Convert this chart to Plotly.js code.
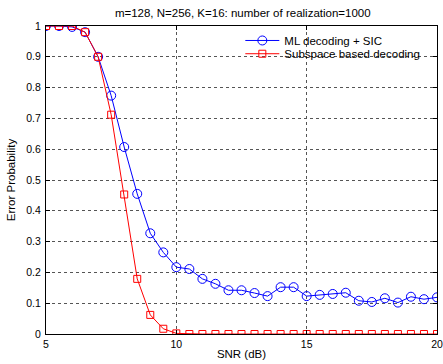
<!DOCTYPE html>
<html>
<head>
<meta charset="utf-8">
<script src="https://cdn.plot.ly/plotly-3.0.1.min.js"></script>
<style>html,body{margin:0;padding:0;background:#fff;}#chart{width:443px;height:364px;}</style>
</head>
<body>
<div id="chart"></div>
<script>
const snr = [5,5.5,6,6.5,7,7.5,8,8.5,9,9.5,10,10.5,11,11.5,12,12.5,13,13.5,14,14.5,15,15.5,16,16.5,17,17.5,18,18.5,19,19.5,20];
const mlSic = [1.0,1.0,0.997,0.98,0.90,0.774,0.607,0.455,0.327,0.265,0.217,0.211,0.179,0.163,0.142,0.142,0.133,0.123,0.152,0.152,0.123,0.127,0.13,0.134,0.108,0.104,0.116,0.102,0.121,0.113,0.119];
const subspace = [1.0,1.0,1.0,0.98,0.90,0.712,0.453,0.179,0.062,0.017,0.002,0,0,0,0,0,0,0,0,0,0,0,0,0,0,0,0,0,0,0,0];
const seriesNames = ["ML decoding + SIC", "Subspace based decoding"];
const titleText = "m=128, N=256, K=16: number of realization=1000";
const xTitle = "SNR (dB)";
const yTitle = "Error Probability";
const xTicks = [5,10,15,20];
const yTicks = [0,0.1,0.2,0.3,0.4,0.5,0.6,0.7,0.8,0.9,1];

const fam = "Liberation Sans, Arial, sans-serif";
const tickFont = {family: fam, size: 10.5, color: "#000"};
const textFont = {family: fam, size: 11.5, color: "#000"};
const traces = [
  {x: snr, y: mlSic, name: seriesNames[0], mode: "lines+markers", type: "scatter", legend: "legend",
   line: {color: "#0000ff", width: 1},
   marker: {symbol: "circle-open", size: 9, color: "#0000ff", line: {width: 1, color: "#0000ff"}}},
  {x: snr, y: subspace, name: seriesNames[1], mode: "lines+markers", type: "scatter", legend: "legend2",
   line: {color: "#ff0000", width: 1},
   marker: {symbol: "square-open", size: 7, color: "#ff0000", line: {width: 1, color: "#ff0000"}}}
];
const axisCommon = {
  showline: true, linecolor: "#000", linewidth: 1, mirror: "allticks",
  ticks: "inside", ticklen: 4, tickcolor: "#000",
  showgrid: true, gridcolor: "#555", griddash: "dot", gridwidth: 1,
  zeroline: false, tickfont: tickFont
};
const legendCommon = {xanchor: "left", yanchor: "middle", bgcolor: "rgba(0,0,0,0)",
  borderwidth: 0, font: textFont, itemwidth: 34};
const layout = {
  width: 443, height: 364,
  margin: {l: 46, r: 6, t: 26, b: 30},
  paper_bgcolor: "#fff", plot_bgcolor: "#fff",
  font: textFont,
  title: {text: titleText, font: textFont, x: 0.548, xanchor: "center", y: 0.963, yanchor: "middle"},
  xaxis: Object.assign({}, axisCommon, {range: [5, 20], tickvals: xTicks, ticktext: xTicks.map(String),
    title: {text: xTitle, font: textFont, standoff: 1}}),
  yaxis: Object.assign({}, axisCommon, {range: [0, 1], tickvals: yTicks, ticktext: yTicks.map(v => String(v)),
    ticklabelstandoff: 2,
    title: {text: yTitle, font: textFont, standoff: 8}}),
  showlegend: true,
  legend: Object.assign({}, legendCommon, {x: 0.497, y: 0.953}),
  legend2: Object.assign({}, legendCommon, {x: 0.497, y: 0.910})
};
Plotly.newPlot("chart", traces, layout, {displayModeBar: false, staticPlot: true});
</script>
</body>
</html>
